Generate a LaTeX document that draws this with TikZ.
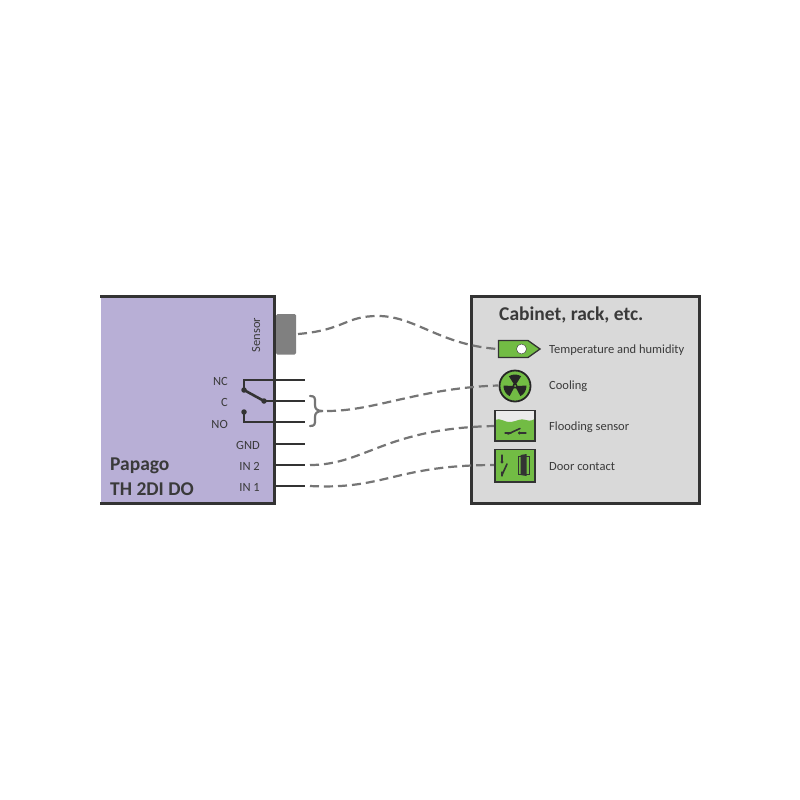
\documentclass[tikz,border=0pt]{standalone}
\usepackage{fontspec}
\setmainfont{Carlito}
\definecolor{lilac}{HTML}{B8AFD6}
\definecolor{cab}{HTML}{D9D9D9}
\definecolor{dark}{HTML}{333333}
\definecolor{mid}{HTML}{757575}
\definecolor{icon}{HTML}{72BC44}
\definecolor{txt}{HTML}{3A3A3A}
\tikzset{
  x=1pt,y=-1pt,
  frame/.style={draw=dark,line width=3pt},
  wire/.style={draw=dark,line width=1.2pt},
  link/.style={draw=mid,line width=2.2pt,dash pattern=on 9pt off 5pt},
  small/.style={font=\fontsize{12.5}{14}\selectfont,text=txt,inner sep=0pt},
  pin/.style={small,anchor=east},
  label/.style={small,anchor=west},
  big/.style={font=\fontsize{19.5}{22}\selectfont\bfseries,text=txt,inner sep=0pt,anchor=west},
  dot/.style={circle,fill=dark,inner sep=0pt,minimum size=5.5pt},
  iconbox/.style={draw=dark,line width=1.3pt},
  blade/.style={line width=1.8pt,draw=dark,line cap=round},
}
\begin{document}
\begin{tikzpicture}
\useasboundingbox (0,0) rectangle (800,800);
\fill[white] (0,0) rectangle (800,800);
% device
\fill[lilac] (101,296) rectangle (274,503);
\draw[frame] (100,296.5) -- (274.5,296.5) -- (274.5,503) -- (100,503);
\fill[rounded corners=1.5pt,fill=black!50] (276,314) rectangle (296,354.5);
\coordinate (sensorOut) at (298,334);
\node[small,rotate=90] (sensorlbl) at (256,335) {Sensor};
% pins
\node[pin] (nc) at (228,381) {NC};
\node[pin] (c) at (228,402) {C};
\node[pin] (no) at (228,424) {NO};
\node[pin] (gnd) at (260,445) {GND};
\node[pin] (in2) at (260,466.5) {IN 2};
\node[pin] (in1) at (260,487.5) {IN 1};
\node[big] (papago) at (110,466) {Papago};
\node[big] (th) at (110,489) {TH 2DI DO};
\coordinate (ncEnd) at (305,380);
\coordinate (cEnd) at (305,401);
\coordinate (noEnd) at (305,422);
\coordinate (gndEnd) at (305,444);
\coordinate (in2End) at (305,465);
\coordinate (in1End) at (305,486);
\coordinate (gndS) at (275,444);
\coordinate (in2S) at (275,465);
\coordinate (in1S) at (275,486);
\node[dot] (swA) at (244,390) {};
\node[dot] (swB) at (264,401) {};
\node[dot] (swC) at (244,412) {};
\draw[wire] (swA.center) -- (244,380) -- (ncEnd);
\draw[wire] (swB.center) -- (cEnd);
\draw[wire] (swC.center) -- (244,422) -- (noEnd);
\draw[wire] (gndS) -- (gndEnd);
\draw[wire] (in2S) -- (in2End);
\draw[wire] (in1S) -- (in1End);
\draw[dark,line width=2.6pt] (swA.center) -- (swB.center);
% brace
\draw[draw=mid,line width=2.2pt,line cap=round] (310,396) .. controls (315,396) and (315,398) .. (315,402)
  -- (315,405) .. controls (315,409) and (317,411) .. (323,411)
  .. controls (317,411) and (315,413) .. (315,417) -- (315,420)
  .. controls (315,424) and (315,426) .. (310,426);
\coordinate (braceOut) at (327,411);
% cabinet
\node[frame,fill=cab,minimum width=228pt,minimum height=207pt,inner sep=0pt,anchor=north west] (cabinet) at (470,295) {};
\node[big] (title) at (499,314.5) {Cabinet, rack, etc.};
\node[label] (l1) at (549,350) {Temperature and humidity};
\node[label] (l2) at (549,386.5) {Cooling};
\node[label] (l3) at (549,427) {Flooding sensor};
\node[label] (l4) at (549,467) {Door contact};
% links
\coordinate (t1) at (498,349);
\coordinate (t2) at (498,385.5);
\coordinate (t3) at (495,426);
\coordinate (t4) at (495,465);
\draw[link] (sensorOut) .. controls (345,330) and (345,316) .. (378,316) .. controls (415,316) and (440,345) .. (t1);
\draw[link] (braceOut) .. controls (375,411) and (420,388) .. (t2);
\draw[link] (310,465) .. controls (365,465) and (385,428) .. (t3);
\draw[link] (310,486) .. controls (385,490) and (395,465) .. (t4);
% temperature tag
\draw[iconbox,fill=icon] (498.5,340.5) -- (528,340.5) -- (540,349) -- (528,357.5) -- (498.5,357.5) -- cycle;
\fill[white,draw=dark,line width=.4pt] (521.5,349) circle (5pt);
% fan
\draw[draw=black!85,line width=1.8pt,fill=icon] (515,386) circle (15.5pt);
\foreach \a in {90,210,330}{
  \fill[black!85] (515,386) -- ++({\a-32}:11.5pt) arc[start angle=\a-32,end angle=\a+32,radius=11.5pt] -- cycle;
}
\fill[black!85] (515,386) circle (2.5pt);
\fill[icon] (515,386) circle (1pt);
% flooding
\fill[white!92!black] (495,410.5) rectangle (535,441);
\fill[icon] (495,420) .. controls (500,417) and (505,423) .. (511,422) .. controls (518,421) and (520,418) .. (526,420) .. controls (530,421.5) and (533,420) .. (535,419) -- (535,441) -- (495,441) -- cycle;
\draw[iconbox] (495,410.5) rectangle (535,441);
\draw[blade,line width=1.3pt] (505,433) -- (511,433);
\draw[blade,line width=1.6pt] (508,434) -- (520,428.5);
\draw[blade,line width=1.3pt] (519,433) -- (526,433);
\fill[dark] (519.5,433) circle (1.6pt);
% door
\draw[iconbox,fill=icon] (495,449.5) rectangle (535,482);
\draw[blade,line width=1.3pt] (502,455) -- (502,462);
\fill[dark] (502,462) circle (1.6pt);
\draw[blade,line width=1.6pt] (507,464) -- (502,475);
\draw[blade,line width=1.3pt] (502,472) -- (502,476);
\draw[dark,line width=.9pt] (518.5,456) rectangle (529,474.5);
\fill[dark] (520.5,455) -- (526.5,454) -- (526.5,476) -- (520.5,475) -- cycle;
\end{tikzpicture}
\end{document}
